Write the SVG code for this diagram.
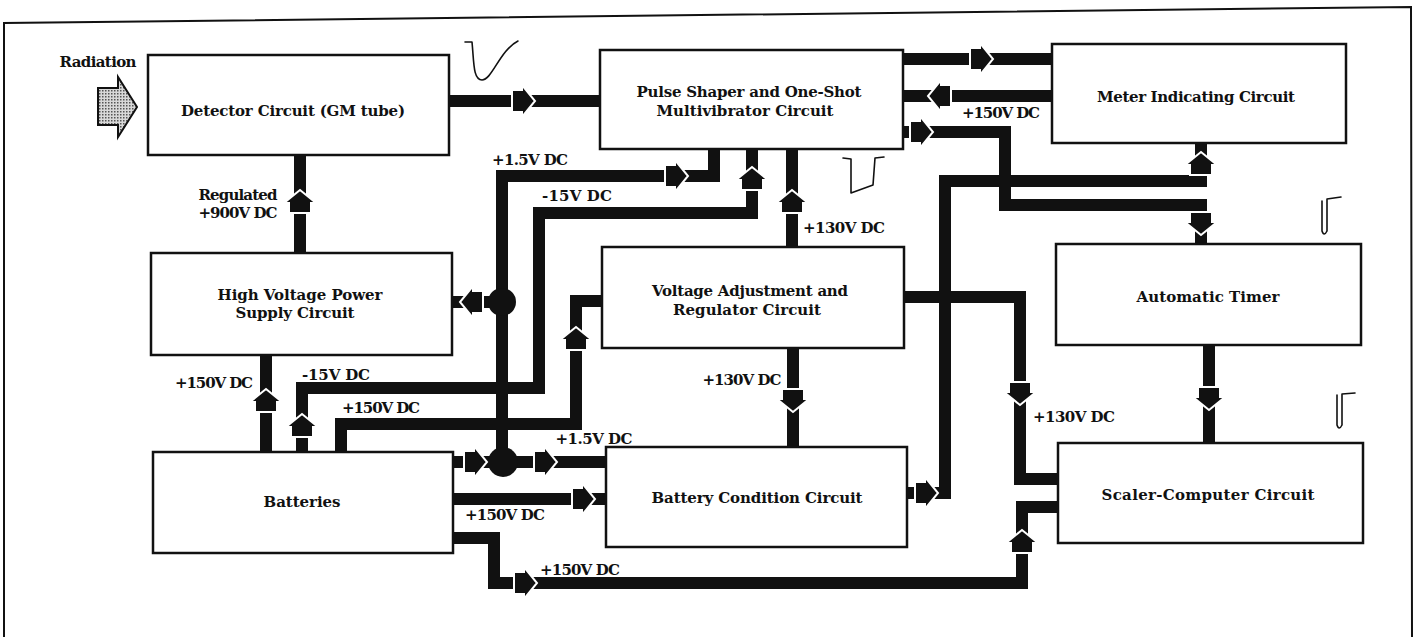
<svg xmlns="http://www.w3.org/2000/svg" xmlns:xlink="http://www.w3.org/1999/xlink" width="1418" height="637" viewBox="0 0 1418 637">
<style>
.box{fill:#fff;stroke:#111;stroke-width:2.5}
.ln{fill:none;stroke:#111;stroke-width:12;stroke-linejoin:miter;stroke-linecap:butt}
.ar{fill:#111;stroke:#fff;stroke-width:2}
.dot{fill:#111}
.wave{fill:none;stroke:#111;stroke-width:1.6;stroke-linecap:round;stroke-linejoin:round}
.t{font-family:"DejaVu Serif","Liberation Serif",serif;font-weight:bold;font-size:15px;fill:#111;text-anchor:middle}
.frame{fill:none;stroke:#111;stroke-width:2}
</style>
<defs>
<polygon id="ar" points="-23,-11 -13,-11 -13,-16 0,0 -13,16 -13,11 -23,11"/>
<pattern id="stip" width="3" height="3" patternUnits="userSpaceOnUse">
<rect width="3" height="3" fill="#d8d8d8"/>
<rect width="1.5" height="1.5" fill="#555"/>
</pattern>
</defs>
<rect width="1418" height="637" fill="#fff"/>
<path class="frame" d="M4,637 L4,23 L1411,7 L1412,637"/>

<g id="radiation">
<polygon points="98,88 118,88 118,77 137,107 118,137 118,125 98,125" fill="url(#stip)" stroke="#111" stroke-width="2"/>
<text class="t" x="98" y="67" textLength="77">Radiation</text>
</g>

<g id="detector">
<rect class="box" x="148" y="55" width="301" height="100"/>
<text class="t" x="293" y="116" textLength="224">Detector Circuit (GM tube)</text>
</g>
<g id="pulse-shaper">
<rect class="box" x="600" y="50" width="303" height="99"/>
<text class="t" x="749" y="97" textLength="225">Pulse Shaper and One-Shot</text>
<text class="t" x="745" y="116" textLength="177">Multivibrator Circuit</text>
</g>
<g id="meter">
<rect class="box" x="1052" y="44" width="294" height="99"/>
<text class="t" x="1196" y="102" textLength="198">Meter Indicating Circuit</text>
</g>
<g id="timer">
<rect class="box" x="1056" y="244" width="305" height="101"/>
<text class="t" x="1208" y="302" textLength="143">Automatic Timer</text>
</g>
<g id="scaler">
<rect class="box" x="1058" y="443" width="305" height="100"/>
<text class="t" x="1208" y="500" textLength="213">Scaler-Computer Circuit</text>
</g>
<g id="hv-supply">
<rect class="box" x="151" y="253" width="301" height="102"/>
<text class="t" x="300" y="300" textLength="165">High Voltage Power</text>
<text class="t" x="295" y="318" textLength="119">Supply Circuit</text>
</g>
<g id="voltage-adj">
<rect class="box" x="602" y="247" width="302" height="101"/>
<text class="t" x="750" y="296" textLength="196">Voltage Adjustment and</text>
<text class="t" x="747" y="315" textLength="148">Regulator Circuit</text>
</g>
<g id="batteries">
<rect class="box" x="153" y="452" width="300" height="101"/>
<text class="t" x="302" y="507" textLength="77">Batteries</text>
</g>
<g id="battery-condition">
<rect class="box" x="606" y="447" width="301" height="100"/>
<text class="t" x="757" y="503" textLength="211">Battery Condition Circuit</text>
</g>

<g id="connectors">
<path class="ln" d="M449,101 L600,101"/>
<path class="ln" d="M300,155 L300,253"/>
<path class="ln" d="M266,452 L266,355"/>
<path class="ln" d="M302,452 L302,388 L539,388 L539,213 L752,213 L752,149"/>
<path class="ln" d="M341,452 L341,424 L576,424 L576,301 L602,301"/>
<path class="ln" d="M453,462 L606,462"/>
<path class="ln" d="M502,462 L502,176 L714,176 L714,149"/>
<path class="ln" d="M452,302 L502,302"/>
<path class="ln" d="M792,247 L792,149"/>
<path class="ln" d="M793,348 L793,447"/>
<path class="ln" d="M904,297 L1020,297 L1020,479 L1058,479"/>
<path class="ln" d="M907,493 L945,493 L945,181 L1201,181 L1201,143"/>
<path class="ln" d="M903,59 L1052,59"/>
<path class="ln" d="M1052,96 L903,96"/>
<path class="ln" d="M903,132 L1005,132 L1005,205 L1201,205 L1201,244"/>
<path class="ln" d="M1209,345 L1209,443"/>
<path class="ln" d="M453,499 L606,499"/>
<path class="ln" d="M453,538 L494,538 L494,583 L1022,583 L1022,507 L1058,507"/>
<circle class="dot" cx="502" cy="302" r="14"/>
<circle class="dot" cx="503" cy="462" r="15"/>
<use href="#ar" class="ar" transform="translate(535,101)"/>
<use href="#ar" class="ar" transform="translate(300,190) rotate(-90)"/>
<use href="#ar" class="ar" transform="translate(266,389) rotate(-90)"/>
<use href="#ar" class="ar" transform="translate(302,414) rotate(-90)"/>
<use href="#ar" class="ar" transform="translate(752,167) rotate(-90)"/>
<use href="#ar" class="ar" transform="translate(576,327) rotate(-90)"/>
<use href="#ar" class="ar" transform="translate(487,462)"/>
<use href="#ar" class="ar" transform="translate(557,462)"/>
<use href="#ar" class="ar" transform="translate(460,302) rotate(180)"/>
<use href="#ar" class="ar" transform="translate(688,176)"/>
<use href="#ar" class="ar" transform="translate(792,190) rotate(-90)"/>
<use href="#ar" class="ar" transform="translate(793,412) rotate(90)"/>
<use href="#ar" class="ar" transform="translate(1020,405) rotate(90)"/>
<use href="#ar" class="ar" transform="translate(938,493)"/>
<use href="#ar" class="ar" transform="translate(1201,152) rotate(-90)"/>
<use href="#ar" class="ar" transform="translate(993,59)"/>
<use href="#ar" class="ar" transform="translate(928,96) rotate(180)"/>
<use href="#ar" class="ar" transform="translate(933,132)"/>
<use href="#ar" class="ar" transform="translate(1201,235) rotate(90)"/>
<use href="#ar" class="ar" transform="translate(1209,410) rotate(90)"/>
<use href="#ar" class="ar" transform="translate(595,499)"/>
<use href="#ar" class="ar" transform="translate(537,583)"/>
<use href="#ar" class="ar" transform="translate(1022,530) rotate(-90)"/>
<text class="t" x="238" y="200" textLength="79">Regulated</text>
<text class="t" x="238" y="218" textLength="79">+900V DC</text>
<text class="t" x="214" y="388" textLength="78">+150V DC</text>
<text class="t" x="336" y="380" textLength="68">-15V DC</text>
<text class="t" x="381" y="413" textLength="78">+150V DC</text>
<text class="t" x="530" y="165" textLength="76">+1.5V DC</text>
<text class="t" x="577" y="201" textLength="70">-15V DC</text>
<text class="t" x="844" y="233" textLength="82">+130V DC</text>
<text class="t" x="1001" y="118" textLength="78">+150V DC</text>
<text class="t" x="742" y="385" textLength="79">+130V DC</text>
<text class="t" x="1074" y="422" textLength="82">+130V DC</text>
<text class="t" x="594" y="444" textLength="77">+1.5V DC</text>
<text class="t" x="505" y="520" textLength="80">+150V DC</text>
<text class="t" x="580" y="575" textLength="80">+150V DC</text>
</g>

<g id="waveforms">
<path class="wave" d="M465,42 L472,42 C474,62 473,80 482,80 C492,80 500,50 518,41"/>
<path class="wave" d="M843,158 L851,159 L851,193 L873,185 L875,158 L884,157"/>
<path class="wave" d="M1322,201 L1322,231 Q1324,237 1327,231 L1327,199 L1341,197"/>
<path class="wave" d="M1337,395 L1337,425 Q1339,431 1342,425 L1342,394 L1355,393"/>
</g>
</svg>
